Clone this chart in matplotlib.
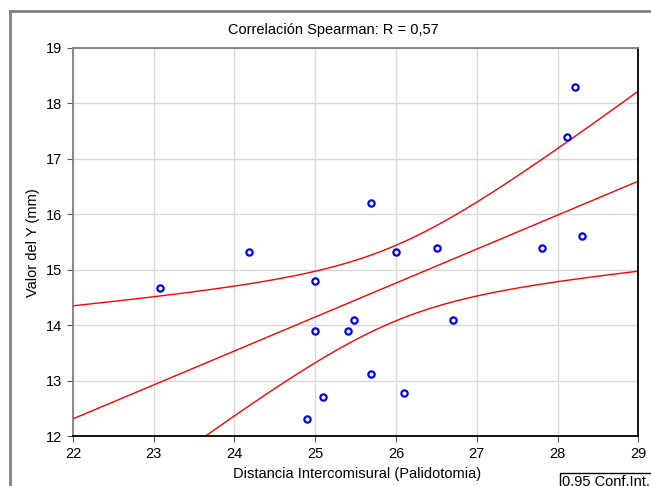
import numpy as np
import matplotlib.pyplot as plt
from matplotlib.patches import Rectangle

plt.rcParams['font.family'] = ['Liberation Sans', 'DejaVu Sans']

# distancia intercomisural vs valor del Y
dist = [23.08, 24.18, 25.0, 25.0, 25.41, 25.48, 25.69, 25.69, 26.0,
        26.1, 26.51, 26.71, 27.81, 28.12, 28.22, 28.3, 25.1, 24.9]
valy = [14.68, 15.32, 14.8, 13.9, 13.9, 14.09, 16.21, 13.12, 15.32,
        12.79, 15.39, 14.09, 15.39, 17.4, 18.29, 15.61, 12.71, 12.31]
xticks = [22, 23, 24, 25, 26, 27, 28, 29]
yticks = [12, 13, 14, 15, 16, 17, 18, 19]
t_crit = 2.12  # t(0.975, gl=16)

x = np.array(dist)
y = np.array(valy)
n = len(x)
b, a = np.polyfit(x, y, 1)
res = y - (a + b * x)
s = np.sqrt(np.sum(res**2) / (n - 2))
sxx = np.sum((x - x.mean())**2)
xx = np.linspace(22, 29, 200)
yy = a + b * xx
half = t_crit * s * np.sqrt(1 / n + (xx - x.mean())**2 / sxx)

fig = plt.figure(figsize=(6.51, 4.86), dpi=100)
ax = fig.add_axes([0.1121, 0.1019, 0.8684, 0.7997])

ax.plot(xx, yy, color='red', lw=1)
ax.plot(xx, yy + half, color='red', lw=1)
ax.plot(xx, yy - half, color='red', lw=1)
ax.plot(x, y, 'o', ms=4.5, mfc='white', mec='blue', mew=1.6, zorder=5)

ax.set_xlim(22, 29)
ax.set_ylim(12, 19)
ax.set_xticks(xticks)
ax.set_yticks(yticks)
ax.grid(True, color='#d9d9d9', lw=1)
ax.set_axisbelow(True)
ax.tick_params(direction='out', length=4, labelsize=10.5, color='#555555')
for side in ['left', 'top']:
    ax.spines[side].set_color('#808080')
    ax.spines[side].set_linewidth(1.3)
for side in ['right', 'bottom']:
    ax.spines[side].set_color('black')
    ax.spines[side].set_linewidth(1.3)

fig.text(0.512, 0.938, 'Correlación Spearman: R = 0,57', ha='center', va='center', fontsize=10.5)
fig.text(0.548, 0.025, 'Distancia Intercomisural (Palidotomia)', ha='center', va='center', fontsize=10.5)
fig.text(0.05, 0.50, 'Valor del Y (mm)', ha='center', va='center', rotation=90, fontsize=10.5)

# marco exterior
fig.patches.append(Rectangle((10 / 651, -0.2), 1.2, 1.2 - 11 / 486 + 0.0,
                             transform=fig.transFigure, fill=False,
                             edgecolor='#808080', lw=2))
fig.text(562 / 651, 1 - 482 / 486, '0.95 Conf.Int.', ha='left', va='center', fontsize=10.5,
         bbox=dict(boxstyle='square,pad=0.15', fc='white', ec='black', lw=1))

fig.savefig('out.png', dpi=100)
